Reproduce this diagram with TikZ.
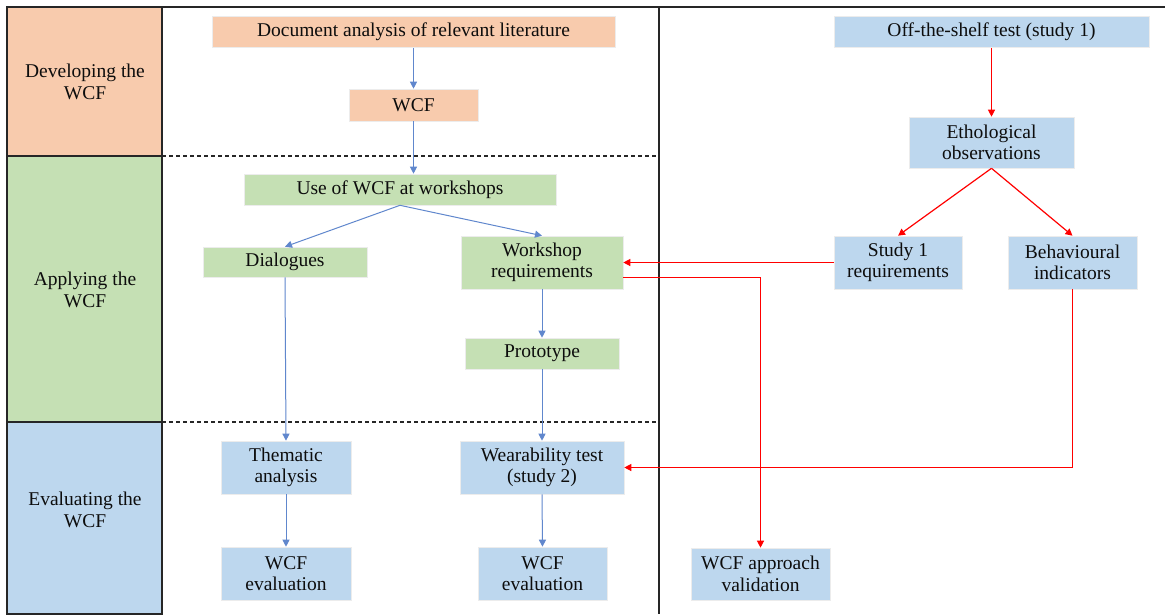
\documentclass[tikz,border=0pt]{standalone}
\usepackage{fontspec}
\setmainfont{Liberation Serif}
\usetikzlibrary{arrows.meta,calc}
\definecolor{corange}{HTML}{F8CBAD}
\definecolor{cgreen}{HTML}{C5E0B4}
\definecolor{cblue}{HTML}{BDD7EE}
\definecolor{cline}{HTML}{4472C4}
\definecolor{cred}{HTML}{FF0000}
\tikzset{
  box/.style={draw=white!85!gray, line width=0.6pt, inner sep=0pt, align=center,
    font=\fontsize{19.5}{21.5}\selectfont, text=black!95},
  obox/.style={box, fill=corange},
  gbox/.style={box, fill=cgreen},
  bbox/.style={box, fill=cblue},
  lab/.style={align=center, font=\fontsize{19.5}{21.5}\selectfont, text=black!95},
  barrow/.style={draw=cline!85, line width=1pt, -{Triangle[length=7pt,width=7pt]}},
  rarrow/.style={draw=cred, line width=1.2pt, -{Triangle[length=7pt,width=7pt]}},
  frame/.style={draw=black!85, line width=1.4pt},
}
\newcommand{\bx}[7]{\node[#1, minimum width=#5pt, minimum height=#6pt] (#2) at (#3,#4) {#7};}
\begin{document}
\begin{tikzpicture}[x=1pt,y=-1pt]
\useasboundingbox (0,0) rectangle (1165,614);
\fill[white] (0,0) rectangle (1165,614);
% left column
\filldraw[fill=corange, frame] (7,7) rectangle (162,156);
\filldraw[fill=cgreen, frame] (7,156) rectangle (162,422);
\filldraw[fill=cblue, frame] (7,422) rectangle (162,614);
\draw[frame] (7,7) -- (1165,7);
\draw[frame] (659,7) -- (659,614);
\draw[dashed, black!85, line width=1.1pt, dash pattern=on 4pt off 3pt] (162,156) -- (659,156);
\draw[dashed, black!85, line width=1.1pt, dash pattern=on 4pt off 3pt] (162,422) -- (659,422);
\node[lab] (l1) at (85,82) {Developing the\\WCF};
\node[lab] (l2) at (85,290) {Applying the\\WCF};
\node[lab] (l3) at (85,510) {Evaluating the\\WCF};
% nodes
\bx{obox}{doc}{413.5}{32}{403}{31}{Document analysis of relevant literature}
\bx{obox}{wcf}{413.5}{105}{129}{32}{WCF}
\bx{gbox}{use}{400}{189.5}{312}{31}{Use of WCF at workshops}
\bx{gbox}{dia}{285}{262}{164}{30}{Dialogues}
\bx{gbox}{wsr}{542}{262.5}{162}{53}{Workshop\\requirements}
\bx{gbox}{pro}{542}{353.5}{154}{31}{Prototype}
\bx{bbox}{the}{286}{467.5}{130}{53}{Thematic\\analysis}
\bx{bbox}{wea}{542}{467.5}{164}{53}{Wearability test\\(study 2)}
\bx{bbox}{ev1}{286}{573.5}{130}{53}{WCF\\evaluation}
\bx{bbox}{ev2}{542.5}{573.5}{129}{53}{WCF\\evaluation}
\bx{bbox}{off}{991.5}{32}{315}{31}{Off-the-shelf test (study 1)}
\bx{bbox}{eth}{991.5}{142.5}{165}{51}{Ethological\\observations}
\bx{bbox}{s1r}{898}{262.5}{128}{53}{Study 1\\requirements}
\bx{bbox}{beh}{1072.5}{262.5}{129}{53}{Behavioural\\indicators}
\bx{bbox}{val}{760.5}{574}{139}{52}{WCF approach\\validation}
% blue arrows
\draw[barrow] (doc.south) -- (wcf.north);
\draw[barrow] (wcf.south) -- (use.north -| wcf.south);
\draw[barrow] (use.south) -- (dia.north);
\draw[barrow] (use.south) -- (wsr.north);
\draw[barrow] (dia.south) -- (the.north);
\draw[barrow] (wsr.south) -- (pro.north);
\draw[barrow] (pro.south) -- (wea.north);
\draw[barrow] (the.south) -- (ev1.north);
\draw[barrow] (wea.south) -- (ev2.north);
% red arrows
\draw[rarrow] (off.south) -- (eth.north);
\draw[rarrow] (eth.south) -- (s1r.north);
\draw[rarrow] (eth.south) -- (beh.north);
\draw[rarrow] (s1r.west) -- (s1r.west -| wsr.east);
\coordinate (wsrout) at ($(wsr.east)+(0,15)$);
\draw[rarrow] (wsrout) -| (val.north);
\draw[rarrow] (beh.south) |- (wea.east);
\end{tikzpicture}
\end{document}
